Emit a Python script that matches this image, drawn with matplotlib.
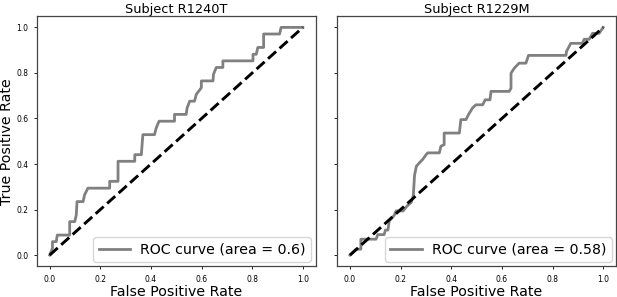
import matplotlib
matplotlib.use("Agg")
import matplotlib.pyplot as plt

# === ROC data ===
subjects = ["R1240T", "R1229M"]
areas = ["0.6", "0.58"]

fpr_r1240t = [0, 0.011, 0.011, 0.026, 0.030, 0.079, 0.079, 0.099, 0.105, 0.108,
              0.132, 0.138, 0.151, 0.237, 0.237, 0.270, 0.270, 0.336, 0.336, 0.362,
              0.368, 0.414, 0.421, 0.432, 0.493, 0.493, 0.539, 0.543, 0.553, 0.572,
              0.579, 0.599, 0.599, 0.645, 0.647, 0.658, 0.684, 0.684, 0.803, 0.803,
              0.816, 0.822, 0.845, 0.845, 0.908, 0.914, 1.0]
tpr_r1240t = [0, 0.030, 0.059, 0.059, 0.088, 0.088, 0.147, 0.147, 0.176, 0.235,
              0.235, 0.265, 0.294, 0.294, 0.324, 0.324, 0.412, 0.412, 0.441, 0.441,
              0.529, 0.529, 0.559, 0.588, 0.588, 0.618, 0.618, 0.647, 0.676, 0.676,
              0.706, 0.735, 0.765, 0.765, 0.794, 0.824, 0.824, 0.853, 0.853, 0.882,
              0.882, 0.912, 0.912, 0.971, 0.971, 1.0, 1.0]

fpr_r1229m = [0, 0.024, 0.043, 0.043, 0.103, 0.110, 0.135, 0.140, 0.150, 0.155,
              0.175, 0.182, 0.210, 0.225, 0.242, 0.250, 0.255, 0.262, 0.274, 0.287,
              0.300, 0.307, 0.353, 0.359, 0.372, 0.372, 0.432, 0.438, 0.458, 0.468,
              0.484, 0.497, 0.524, 0.534, 0.553, 0.557, 0.629, 0.636, 0.636, 0.649,
              0.668, 0.695, 0.705, 0.853, 0.855, 0.872, 0.918, 0.925, 0.945, 0.958,
              0.984, 1.0]
tpr_r1229m = [0, 0.026, 0.026, 0.070, 0.070, 0.090, 0.090, 0.110, 0.110, 0.150,
              0.175, 0.194, 0.194, 0.215, 0.232, 0.260, 0.350, 0.390, 0.405, 0.420,
              0.440, 0.449, 0.449, 0.478, 0.485, 0.536, 0.536, 0.595, 0.595, 0.617,
              0.646, 0.660, 0.660, 0.682, 0.682, 0.719, 0.719, 0.733, 0.799, 0.821,
              0.843, 0.843, 0.877, 0.877, 0.894, 0.930, 0.930, 0.948, 0.948, 0.974,
              0.974, 1.0]

fprs = [fpr_r1240t, fpr_r1229m]
tprs = [tpr_r1240t, tpr_r1229m]
ticks = [0.0, 0.2, 0.4, 0.6, 0.8, 1.0]

fig = plt.figure(figsize=(6.17, 2.97), dpi=100)
ax1 = fig.add_axes([0.060, 0.1027, 0.4514, 0.8434])
ax2 = fig.add_axes([0.5467, 0.1027, 0.4514, 0.8434], sharey=ax1)

for ax, subj, area, fpr, tpr in zip([ax1, ax2], subjects, areas, fprs, tprs):
    ax.plot(fpr, tpr, color="gray", lw=2.0, label=f"ROC curve (area = {area})")
    ax.plot([0, 1], [0, 1], "k--", lw=2.1)
    ax.set_xticks(ticks)
    ax.set_yticks(ticks)
    ax.tick_params(labelsize=5.5, length=2.5, width=0.6)
    ax.set_xlabel("False Positive Rate", fontsize=10.2, labelpad=0.5)
    ax.set_title(f"Subject {subj}", fontsize=9.3, pad=2.5)
    for sp in ax.spines.values():
        sp.set_color("#444444")
        sp.set_linewidth(0.9)
    ax.legend(loc="lower right", fontsize=10.2, handlelength=2.2,
              handletextpad=0.7, borderpad=0.4, borderaxespad=0.3,
              framealpha=0.8)

ax1.set_ylabel("True Positive Rate", fontsize=10.2, labelpad=2)
plt.setp(ax2.get_yticklabels(), visible=False)

fig.savefig("out.png", dpi=100)
